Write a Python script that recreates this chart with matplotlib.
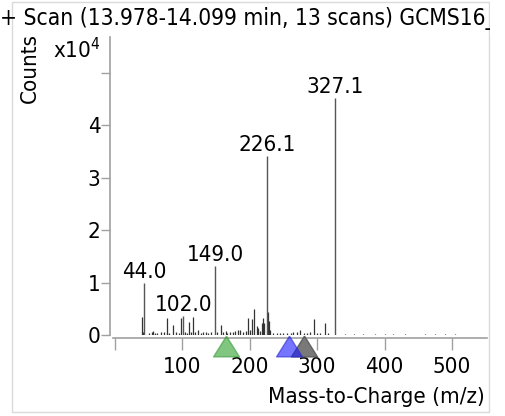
import matplotlib
matplotlib.use("Agg")
import matplotlib.pyplot as plt
import matplotlib.transforms as m_trans
from matplotlib.patches import Rectangle
from matplotlib.path import Path

TITLE = "+ Scan (13.978-14.099 min, 13 scans) GCMS16_"

# labelled peaks (m/z, counts)
label_mz = [44.0, 102.0, 149.0, 226.1, 327.1]
label_counts = [9900, 3600, 13100, 34100, 45100]

# unlabelled peaks
minor_mz = [41, 42, 51, 55, 57, 60, 63, 69, 73, 77, 78, 81, 86, 91, 95, 98,
            105, 107, 110, 113, 116, 119, 123, 128, 131, 135, 139, 143, 152,
            157, 161, 165, 167, 171, 175, 178, 183, 186, 190, 194, 198, 201,
            204, 207, 211, 213, 216, 218, 220, 222, 228, 229, 231, 235, 240,
            245, 250, 255, 261, 265, 270, 275, 280, 285, 290, 295, 300, 305,
            311, 316, 341, 355, 368, 386, 401, 413, 430, 460, 475, 489, 504]
minor_counts = [3500, 600, 300, 500, 700, 400, 300, 600, 500, 400, 3200, 400,
                1900, 600, 400, 3200, 500, 400, 2500, 600, 3500, 500, 1000,
                400, 500, 600, 300, 500, 600, 2000, 500, 700, 400, 600, 500,
                800, 900, 1000, 600, 800, 3200, 900, 3100, 4900, 1700, 1300,
                700, 2200, 3200, 2300, 4400, 2700, 1000, 400, 300, 300, 300,
                400, 300, 500, 600, 1000, 400, 300, 600, 3100, 300, 400, 2300,
                300, 200, 200, 200, 150, 200, 200, 200, 150, 150, 150, 200]

# compound hit markers under the axis
hit_mz = [165, 280, 259]
hit_face = ["#2ca02c", "#6a6a6a", "#1a1aff"]
hit_edge = ["#3c9c3c", "#5a5a5a", "#2a2ad0"]
hit_alpha = [0.6, 0.9, 0.6]

x_ticks = [0, 100, 200, 300, 400, 500]
y_ticks = [0, 1, 2, 3, 4, 5]

W, H = 506, 416


def px_x(v):
    return v / W


def px_y(v):
    return 1 - v / H


def main():
    plt.rcParams["font.family"] = ["DejaVu Sans"]
    plt.rcParams["font.stretch"] = "condensed"

    fig = plt.figure(figsize=(W / 100, H / 100), dpi=100)
    ax = fig.add_axes([113.2 / W, 1 - 335 / H, 374 / W, 298 / H])

    scale = 1e4
    ax.vlines(minor_mz, 0, [c / scale for c in minor_counts], color="#333333", lw=0.9)
    ax.vlines(label_mz, 0, [c / scale for c in label_counts], color="#555555", lw=1.0)
    for mz, c in zip(label_mz, label_counts):
        ax.annotate(f"{mz:.1f}", (mz, c / scale), xytext=(0, 1), textcoords="offset points",
                    ha="center", va="bottom", fontsize=16)

    tri = Path([(0, 0.8), (-1, -0.8), (1, -0.8), (0, 0.8)])
    below = m_trans.offset_copy(ax.transData, fig=fig, y=-10.5, units="dots")
    for mz, fc, ec, a in zip(hit_mz, hit_face, hit_edge, hit_alpha):
        ax.plot([mz], [0], marker=tri, markersize=18.7, markerfacecolor=fc,
                markeredgecolor=ec, alpha=a, ls="none", transform=below,
                clip_on=False, zorder=5)

    ax.set_xlim(-2, 552)
    ax.set_ylim(0, 5.68)

    for side in ("top", "right"):
        ax.spines[side].set_visible(False)
    ax.spines["left"].set_position(("outward", 2.3))
    ax.spines["bottom"].set_position(("outward", 2.2))
    for side in ("left", "bottom"):
        ax.spines[side].set_color("#a0a0a0")
        ax.spines[side].set_linewidth(1.2)

    ax.set_xticks(x_ticks)
    ax.set_xticklabels([""] + [str(t) for t in x_ticks[1:]])
    ax.set_yticks(y_ticks)
    ax.set_yticklabels([str(t) for t in y_ticks[:-1]] + [""])
    ax.tick_params(axis="x", length=8.6, width=1, color="#a0a0a0", pad=5, labelsize=16)
    ax.tick_params(axis="y", length=6.5, width=1, color="#a0a0a0", pad=0.5, labelsize=16)

    border = Rectangle((px_x(12.5), px_y(412)), px_x(489) - px_x(12.5), px_y(2) - px_y(412),
                       transform=fig.transFigure, fill=False, edgecolor="#dadada", lw=1)
    fig.patches.append(border)

    fig.text(0, px_y(18), TITLE, ha="left", va="center", fontsize=16.3)
    # the title runs past the frame and is cut off at its right edge
    mask = Rectangle((px_x(490), px_y(36)), 1 - px_x(490), px_y(3) - px_y(36),
                     transform=fig.transFigure, facecolor="white", edgecolor="none", zorder=20)
    fig.add_artist(mask)

    fig.text(px_x(30), px_y(68), "Counts", rotation=90, ha="center", va="center", fontsize=16)
    fig.text(px_x(53), px_y(50), "x10$^4$", ha="left", va="center", fontsize=16)
    fig.text(px_x(485), px_y(397), "Mass-to-Charge (m/z)", ha="right", va="center", fontsize=16)

    fig.savefig("out.png", dpi=100)


if __name__ == "__main__":
    main()
